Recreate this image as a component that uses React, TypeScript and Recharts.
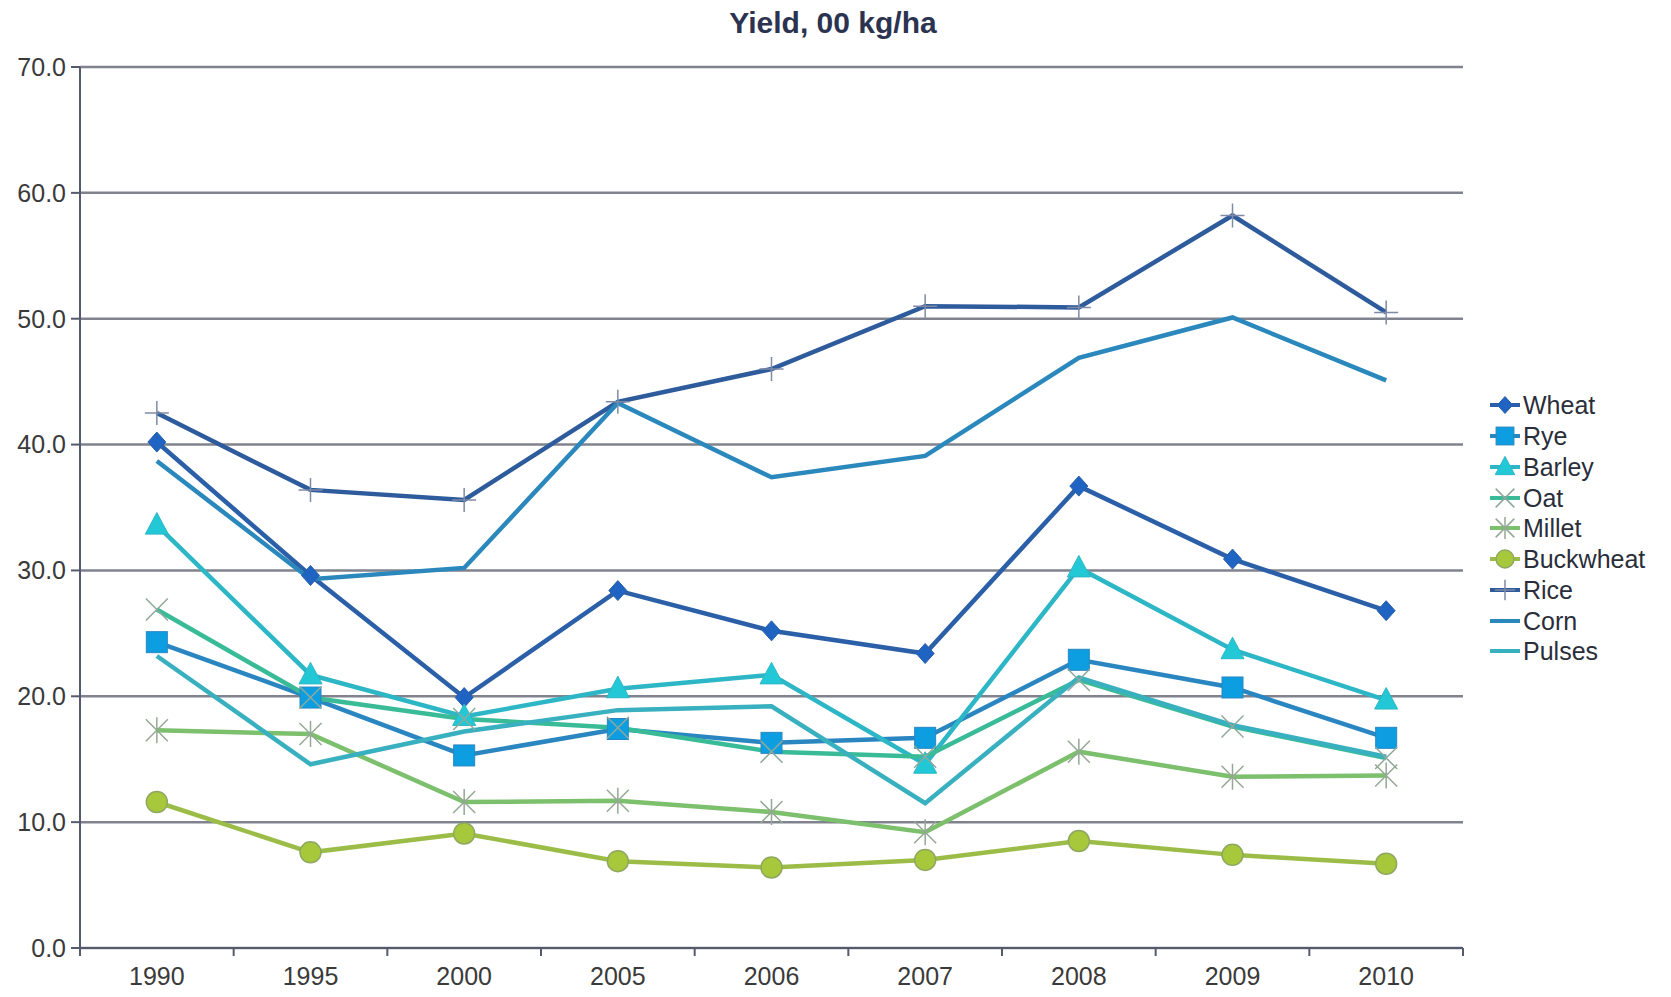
import React from 'react';
import { LineChart, Line, XAxis, YAxis, CartesianGrid, Legend } from 'recharts';

const years = ['1990', '1995', '2000', '2005', '2006', '2007', '2008', '2009', '2010'];

const wheat = [40.2, 29.6, 19.9, 28.4, 25.2, 23.4, 36.7, 30.9, 26.8];
const rye = [24.3, 19.9, 15.3, 17.4, 16.3, 16.7, 22.9, 20.7, 16.7];
const barley = [33.6, 21.7, 18.4, 20.6, 21.7, 14.6, 30.2, 23.7, 19.7];
const oat = [26.9, 19.9, 18.2, 17.5, 15.6, 15.2, 21.3, 17.6, 15.1];
const millet = [17.3, 17.0, 11.6, 11.7, 10.8, 9.2, 15.6, 13.6, 13.7];
const buckwheat = [11.6, 7.6, 9.1, 6.9, 6.4, 7.0, 8.5, 7.4, 6.7];
const rice = [42.5, 36.4, 35.6, 43.4, 46.0, 51.0, 50.9, 58.2, 50.5];
const corn = [38.7, 29.3, 30.2, 43.3, 37.4, 39.1, 46.9, 50.1, 45.1];
const pulses = [23.2, 14.6, 17.2, 18.9, 19.2, 11.5, 21.5, 17.7, 15.2];

const yTicks = [0, 10, 20, 30, 40, 50, 60, 70];

type Kind = 'diamond' | 'square' | 'triangle' | 'x' | 'star' | 'circle' | 'plus' | 'none';

const series: { name: string; values: number[]; color: string; fill: string; kind: Kind }[] = [
  { name: 'Wheat', values: wheat, color: '#2b5fa8', fill: '#1f64c2', kind: 'diamond' },
  { name: 'Rye', values: rye, color: '#2a86c0', fill: '#0c9ee0', kind: 'square' },
  { name: 'Barley', values: barley, color: '#2db6c6', fill: '#22c8d6', kind: 'triangle' },
  { name: 'Oat', values: oat, color: '#3abb98', fill: '#40c0a0', kind: 'x' },
  { name: 'Millet', values: millet, color: '#7cbf6c', fill: '#8ab88a', kind: 'star' },
  { name: 'Buckwheat', values: buckwheat, color: '#9bbd48', fill: '#a8c83c', kind: 'circle' },
  { name: 'Rice', values: rice, color: '#2d5b9c', fill: '#2d5b9c', kind: 'plus' },
  { name: 'Corn', values: corn, color: '#2a88bc', fill: '#2a88bc', kind: 'none' },
  { name: 'Pulses', values: pulses, color: '#39b0bf', fill: '#39b0bf', kind: 'none' },
];

const data = years.map((year, i) => {
  const row: Record<string, number | string> = { idx: i, year };
  series.forEach((s) => {
    row[s.name] = s.values[i];
  });
  return row;
});

const xTicks = [-0.5, ...years.flatMap((_, i) => [i, i + 0.5])];

function Marker({ kind, cx, cy, fill, stroke, k = 1 }: { kind: Kind; cx: number; cy: number; fill: string; stroke: string; k?: number }) {
  switch (kind) {
    case 'diamond':
      return <path d={`M${cx},${cy - 10 * k}L${cx + 9 * k},${cy}L${cx},${cy + 10 * k}L${cx - 9 * k},${cy}Z`} fill={fill} stroke={stroke} strokeWidth={1} />;
    case 'square':
      return <rect x={cx - 10.5 * k} y={cy - 10.5 * k} width={21 * k} height={21 * k} fill={fill} stroke={stroke} strokeWidth={1} />;
    case 'triangle':
      return <path d={`M${cx},${cy - 12.5 * k}L${cx + 11.5 * k},${cy + 9 * k}L${cx - 11.5 * k},${cy + 9 * k}Z`} fill={fill} stroke={stroke} strokeWidth={1} />;
    case 'x':
      return (
        <g stroke="#8fa89a" strokeWidth={1.5}>
          <path d={`M${cx - 11 * k},${cy - 11 * k}L${cx + 11 * k},${cy + 11 * k}M${cx + 11 * k},${cy - 11 * k}L${cx - 11 * k},${cy + 11 * k}`} />
        </g>
      );
    case 'star':
      return (
        <g stroke="#94a894" strokeWidth={1.5}>
          <path d={`M${cx - 11 * k},${cy - 11 * k}L${cx + 11 * k},${cy + 11 * k}M${cx + 11 * k},${cy - 11 * k}L${cx - 11 * k},${cy + 11 * k}M${cx},${cy - 13 * k}L${cx},${cy + 13 * k}`} />
        </g>
      );
    case 'circle':
      return <circle cx={cx} cy={cy} r={10.5 * k} fill={fill} stroke="#8fa860" strokeWidth={1.5} />;
    case 'plus':
      return (
        <g stroke="#7f8aa6" strokeWidth={1.5}>
          <path d={`M${cx - 12 * k},${cy}L${cx + 12 * k},${cy}M${cx},${cy - 12 * k}L${cx},${cy + 12 * k}`} />
        </g>
      );
    default:
      return null;
  }
}

function makeDot(kind: Kind, fill: string, stroke: string) {
  return (props: any) => {
    const { cx, cy, index } = props;
    if (kind === 'none' || cx == null || cy == null) return <g key={`d-${index}`} />;
    return (
      <g key={`d-${index}`}>
        <Marker kind={kind} cx={cx} cy={cy} fill={fill} stroke={stroke} />
      </g>
    );
  };
}

function XTick(props: any) {
  const { x, y, payload } = props;
  const v = payload.value as number;
  if (Number.isInteger(v)) {
    return (
      <text x={x} y={y + 37} textAnchor="middle" fontSize={25} fill="#3a3a3a" fontFamily="Liberation Sans, Arial, sans-serif">
        {years[v]}
      </text>
    );
  }
  return <line x1={x} y1={y} x2={x} y2={y + 8} stroke="#555a6c" strokeWidth={2} />;
}

function LegendBox() {
  return (
    <div style={{ fontFamily: 'Liberation Sans, Arial, sans-serif', fontSize: 25, color: '#2a2e3a' }}>
      {series.map((s) => (
        <div key={s.name} style={{ display: 'flex', alignItems: 'center', height: 30.75 }}>
          <svg width={34} height={30} style={{ overflow: 'visible' }}>
            <line x1={2} y1={15} x2={32} y2={15} stroke={s.color} strokeWidth={4} />
            <Marker kind={s.kind} cx={17} cy={15} fill={s.fill} stroke={s.color} k={0.85} />
          </svg>
          <span style={{ marginLeft: 1, lineHeight: '30px' }}>{s.name}</span>
        </div>
      ))}
    </div>
  );
}

export default function App() {
  return (
    <div style={{ position: 'absolute', left: 0, top: 0, width: 1671, height: 997, background: '#fff' }}>
      <div
        style={{
          position: 'absolute',
          left: 0,
          width: 1666,
          top: 6,
          textAlign: 'center',
          fontFamily: 'Liberation Sans, Arial, sans-serif',
          fontWeight: 'bold',
          fontSize: 30,
          color: '#2b3350',
        }}
      >
        Yield, 00 kg/ha
      </div>
      <LineChart width={1671} height={997} data={data} margin={{ top: 67, right: 208, bottom: 0, left: 0 }}>
        <CartesianGrid vertical={false} stroke="#80838e" strokeWidth={2.5} />
        <XAxis
          dataKey="idx"
          type="number"
          domain={[-0.5, 8.5]}
          ticks={xTicks}
          interval={0}
          allowDecimals
          tick={<XTick />}
          tickLine={false}
          tickSize={0}
          tickMargin={0}
          height={49}
          axisLine={{ stroke: '#555a6c', strokeWidth: 2 }}
        />
        <YAxis
          domain={[0, 70]}
          ticks={yTicks}
          width={80}
          interval={0}
          tickFormatter={(v: number) => v.toFixed(1)}
          tickSize={9}
          tickMargin={5}
          tick={{ fontSize: 25, fill: '#3a3a3a', fontFamily: 'Liberation Sans, Arial, sans-serif' }}
          tickLine={{ stroke: '#555a6c', strokeWidth: 2 }}
          axisLine={{ stroke: '#555a6c', strokeWidth: 2 }}
        />
        {series.map((s) => (
          <Line
            key={s.name}
            dataKey={s.name}
            type="linear"
            stroke={s.color}
            strokeWidth={4.5}
            dot={makeDot(s.kind, s.fill, s.color)}
            activeDot={false}
            isAnimationActive={false}
          />
        ))}
        <Legend
          layout="vertical"
          align="center"
          verticalAlign="middle"
          content={() => <LegendBox />}
          wrapperStyle={{ left: 1488, top: 390, width: 183 }}
        />
      </LineChart>
    </div>
  );
}
